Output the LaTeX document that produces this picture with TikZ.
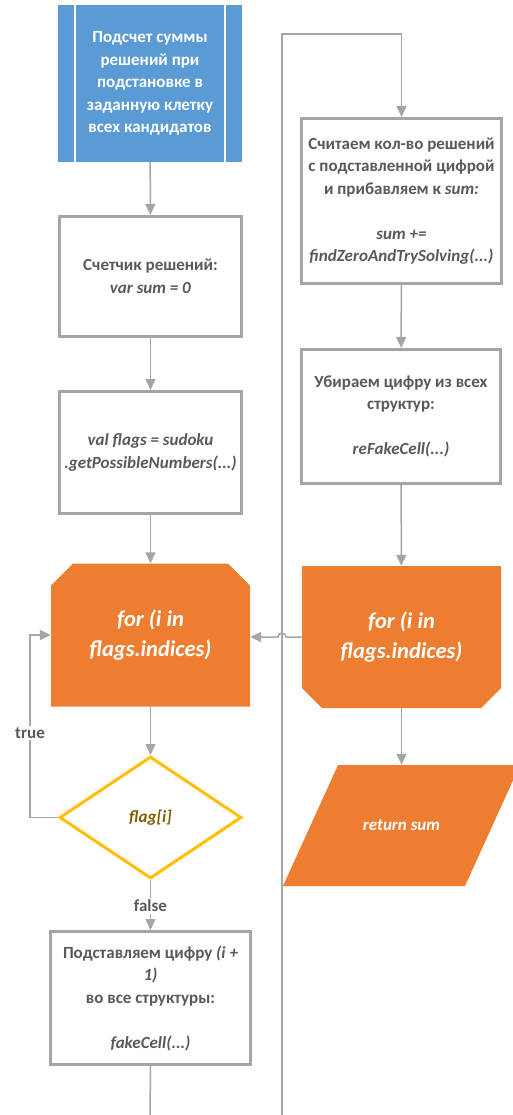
\documentclass[tikz,border=0pt]{standalone}
\usepackage{fontspec}
\setmainfont{Carlito}
\usetikzlibrary{arrows.meta,shapes.geometric}
\definecolor{cblue}{HTML}{5B9BD5}
\definecolor{corange}{HTML}{ED7D31}
\definecolor{cgold}{HTML}{FFC000}
\definecolor{cgray}{HTML}{A5A5A5}
\definecolor{ctext}{HTML}{595959}
\definecolor{colive}{HTML}{7F6000}
\begin{document}
\begin{tikzpicture}[x=1pt,y=-1pt,
  base/.style={font=\fontsize{17}{22.5}\selectfont\bfseries, align=center, inner sep=0pt},
  box/.style={base, draw=cgray, line width=3pt, fill=white, text=ctext},
  conn/.style={draw=cgray, line width=1.5pt, -{Triangle[width=10pt,length=11pt]}},
  plain/.style={draw=cgray, line width=1.5pt},
  lbl/.style={base, fill=white, text=ctext, inner sep=2pt},
  forbox/.style={base, text=white, font=\fontsize{22.5}{30}\selectfont\bfseries\itshape}
]
\useasboundingbox (0,0) rectangle (513,1115);
\fill[white] (0,0) rectangle (513,1115);

% start (predefined process)
\node[base, fill=cblue, text=white, minimum width=184pt, minimum height=157pt] (start) at (150,83.5)
  {Подсчет суммы\\решений при\\подстановке в\\заданную клетку\\всех кандидатов};
\draw[white, line width=1.5pt] (75,5) -- (75,162) (225,5) -- (225,162);

\node[box, minimum width=182pt, minimum height=120pt] (cnt) at (150.5,276.5)
  {Счетчик решений:\\\textit{var sum = 0}};
\node[box, minimum width=182pt, minimum height=122pt] (flags) at (150.5,452.5)
  {\textit{val flags = sudoku}\\\textit{.getPossibleNumbers(...)}};

% left loop header
\node[forbox, minimum width=199pt, minimum height=143pt,
  path picture={\fill[corange]
    ([yshift=-22pt]path picture bounding box.north west) --
    ([xshift=22pt]path picture bounding box.north west) --
    ([xshift=-22pt]path picture bounding box.north east) --
    ([yshift=-22pt]path picture bounding box.north east) --
    (path picture bounding box.south east) --
    (path picture bounding box.south west) -- cycle;}] (forL) at (150.5,635)
  {for (i in\\flags.indices)};

\node[base, draw=cgold, line width=3pt, fill=white, text=colive, font=\fontsize{17}{22.5}\selectfont\bfseries\itshape,
  diamond, minimum width=182pt, minimum height=122pt] (dia) at (150.5,817.5) {flag[i]};

\node[box, minimum width=200pt, minimum height=133pt] (sub) at (150.5,998)
  {Подставляем цифру \textit{(i +}\\\textit{1)}\\во все структуры:\\[22.5pt]\textit{fakeCell(...)}};

% right column
\node[box, minimum width=200pt, minimum height=165pt] (calc) at (401.5,201)
  {Считаем кол-во решений\\с подставленной цифрой\\и прибавляем к \textit{sum:}\\[22.5pt]\textit{sum +=}\\\textit{findZeroAndTrySolving(...)}};
\node[box, minimum width=199pt, minimum height=134pt] (refake) at (401,416.5)
  {Убираем цифру из всех\\структур:\\[22.5pt]\textit{reFakeCell(...)}};

\node[forbox, minimum width=199pt, minimum height=142pt,
  path picture={\fill[corange]
    (path picture bounding box.north west) --
    (path picture bounding box.north east) --
    ([yshift=20pt]path picture bounding box.south east) --
    ([xshift=-20pt]path picture bounding box.south east) --
    ([xshift=20pt]path picture bounding box.south west) --
    ([yshift=20pt]path picture bounding box.south west) -- cycle;}] (forR) at (401.5,637)
  {for (i in\\flags.indices)};

\node[base, text=white, font=\fontsize{17}{22.5}\selectfont\bfseries\itshape,
  minimum width=237pt, minimum height=121pt,
  path picture={\fill[corange]
    (path picture bounding box.south west) --
    ([xshift=55pt]path picture bounding box.north west) --
    (path picture bounding box.north east) --
    ([xshift=-55pt]path picture bounding box.south east) -- cycle;}] (ret) at (401.5,825.5) {return sum};

% coordinates
\coordinate (eL) at (150,1115);
\coordinate (eR) at (282,1115);
\coordinate (top) at (282,34);
\coordinate (trueC) at (30,817.5);

% connectors
\draw[conn] (start) -- (cnt);
\draw[conn] (cnt) -- (flags);
\draw[conn] (flags) -- (forL);
\draw[conn] (forL) -- (dia);
\draw[conn] (dia.west) -- (trueC) |- (forL.west);
\node[lbl] (ltrue) at (30,733) {true};
\draw[conn] (dia.south) -- (sub.north);
\node[lbl] (lfalse) at (150.5,906) {false};
\draw[plain] (sub.south) -- (eL);
\draw[conn] (eR) -- (top) -| (calc.north);
\draw[conn] (calc) -- (refake);
\draw[conn] (refake) -- (forR);
\draw[conn] (forR.south) -- (forR.south |- ret.north);
\draw[conn] (forR.west) -- (286,637) arc[start angle=0, end angle=180, radius=4pt] -- (forL.east |- 0,637);
\end{tikzpicture}
\end{document}
